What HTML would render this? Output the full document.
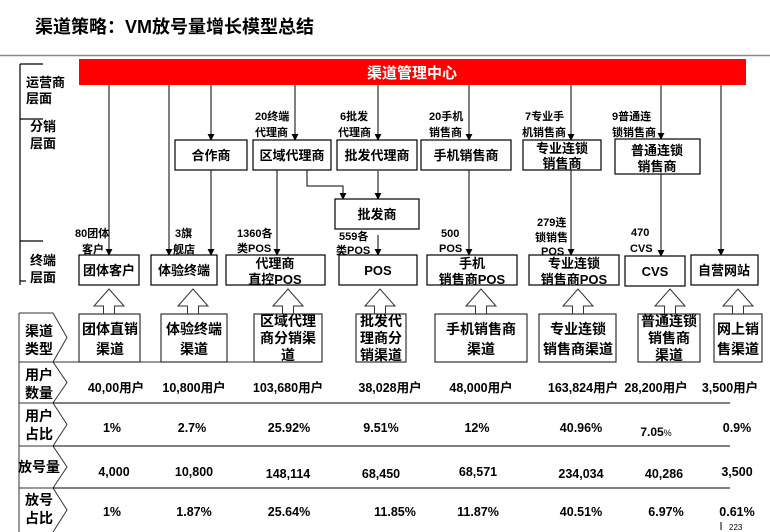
<!DOCTYPE html>
<html><head><meta charset="utf-8"><style>
html,body{margin:0;padding:0;background:#fff;}
svg{display:block;font-family:"Liberation Sans","Noto Sans CJK SC","WenQuanYi Zen Hei",sans-serif;font-weight:bold;}
</style></head><body>
<svg width="770" height="532" viewBox="0 0 770 532" xmlns="http://www.w3.org/2000/svg">
<defs><marker id="a" viewBox="0 0 8 8" refX="7" refY="4" markerWidth="7" markerHeight="7" orient="auto" markerUnits="userSpaceOnUse"><path d="M0,0 L8,4 L0,8 z" fill="#000"/></marker></defs>
<text x="35" y="33" font-size="18">渠道策略：VM放号量增长模型总结</text>
<line x1="0" y1="55.5" x2="770" y2="55.5" stroke="#888" stroke-width="1.5"/>
<rect x="79" y="59" width="667" height="26" fill="#ff0000"/>
<text x="412" y="78" font-size="15" fill="#fff" text-anchor="middle">渠道管理中心</text>
<g stroke="#000" stroke-width="1.2" fill="none">
<line x1="20" y1="64" x2="20" y2="285"/>
<line x1="20" y1="64" x2="43" y2="64"/><line x1="20" y1="119" x2="43" y2="119"/>
<line x1="20" y1="241" x2="43" y2="241"/><line x1="20" y1="281" x2="26" y2="281"/>
</g>
<g font-size="13">
<text x="26" y="87">运营商</text><text x="26" y="103">层面</text>
<text x="30" y="131">分销</text><text x="30" y="148">层面</text>
<text x="30" y="265">终端</text><text x="30" y="282">层面</text>
</g>
<g stroke="#000" stroke-width="1" marker-end="url(#a)">
<line x1="109" y1="85" x2="109" y2="255"/>
<line x1="169" y1="85" x2="169" y2="255"/>
<line x1="211" y1="85" x2="211" y2="140"/>
<line x1="295" y1="85" x2="295" y2="140"/>
<line x1="378" y1="85" x2="378" y2="140"/>
<line x1="469" y1="85" x2="469" y2="140"/>
<line x1="571" y1="85" x2="571" y2="140"/>
<line x1="661" y1="85" x2="661" y2="139"/>
<line x1="721" y1="85" x2="721" y2="255"/>
<line x1="211" y1="170" x2="211" y2="255"/>
<line x1="277" y1="170" x2="277" y2="255"/>
<polyline points="307,170 307,186 343,186 343,199" fill="none"/>
<line x1="378" y1="171" x2="378" y2="199"/>
<line x1="378" y1="235" x2="378" y2="255"/>
<line x1="469" y1="170" x2="469" y2="255"/>
<line x1="571" y1="170" x2="571" y2="255"/>
<line x1="661" y1="174" x2="661" y2="256"/>
</g>
<g stroke="#000" stroke-width="1.2" fill="#fff">
<rect x="175" y="140" width="72" height="30"/>
<rect x="253" y="140" width="78" height="30"/>
<rect x="337" y="140" width="80" height="30"/>
<rect x="421" y="140" width="90" height="30"/>
<rect x="523" y="140" width="78" height="30"/>
<rect x="615" y="139" width="85" height="35"/>
<rect x="335" y="199" width="84" height="30"/>
<rect x="79" y="255" width="60" height="30"/>
<rect x="151" y="255" width="66" height="30"/>
<rect x="226" y="255" width="99" height="30"/>
<rect x="339" y="255" width="78" height="30"/>
<rect x="427" y="255" width="90" height="30"/>
<rect x="529" y="255" width="90" height="30"/>
<rect x="625" y="256" width="60" height="30"/>
<rect x="691" y="255" width="67" height="30"/>
</g>
<g font-size="13" text-anchor="middle">
<text x="211" y="160">合作商</text>
<text x="292" y="160">区域代理商</text>
<text x="377" y="160">批发代理商</text>
<text x="466" y="160">手机销售商</text>
<text x="562" y="153">专业连锁</text><text x="562" y="168">销售商</text>
<text x="657" y="155">普通连锁</text><text x="657" y="171">销售商</text>
<text x="377" y="219">批发商</text>
<text x="109" y="275">团体客户</text>
<text x="184" y="275">体验终端</text>
<text x="275" y="268">代理商</text><text x="275" y="284">直控POS</text>
<text x="378" y="275">POS</text>
<text x="472" y="268">手机</text><text x="472" y="284">销售商POS</text>
<text x="574" y="268">专业连锁</text><text x="574" y="284">销售商POS</text>
<text x="655" y="276">CVS</text>
<text x="724" y="275">自营网站</text>
</g>
<g font-size="11">
<text x="75" y="237">80团体</text><text x="82" y="253">客户</text>
<text x="175" y="237">3旗</text><text x="173" y="253">舰店</text>
<text x="237" y="237">1360各</text><text x="237" y="252">类POS</text>
<text x="255" y="120">20终端</text><text x="255" y="136">代理商</text>
<text x="340" y="120">6批发</text><text x="338" y="136">代理商</text>
<text x="339" y="240">559各</text><text x="336" y="254">类POS</text>
<text x="429" y="120">20手机</text><text x="429" y="136">销售商</text>
<text x="441" y="237">500</text><text x="439" y="252">POS</text>
<text x="525" y="120">7专业手</text><text x="522" y="136">机销售商</text>
<text x="537" y="226">279连</text><text x="535" y="241">锁销售</text><text x="541" y="255">POS</text>
<text x="612" y="120">9普通连</text><text x="612" y="136">锁销售商</text>
<text x="631" y="236">470</text><text x="630" y="252">CVS</text>
</g>
<g stroke="#333" stroke-width="1" fill="#fff">
<path d="M109,289 L124,306 L114.5,306 L114.5,314 L103.5,314 L103.5,306 L94,306 Z"/>
<path d="M193,289 L208,306 L198.5,306 L198.5,314 L187.5,314 L187.5,306 L178,306 Z"/>
<path d="M288,289 L303,306 L293.5,306 L293.5,314 L282.5,314 L282.5,306 L273,306 Z"/>
<path d="M380,289 L395,306 L385.5,306 L385.5,314 L374.5,314 L374.5,306 L365,306 Z"/>
<path d="M481,289 L496,306 L486.5,306 L486.5,314 L475.5,314 L475.5,306 L466,306 Z"/>
<path d="M578,289 L593,306 L583.5,306 L583.5,314 L572.5,314 L572.5,306 L563,306 Z"/>
<path d="M670,289 L685,306 L675.5,306 L675.5,314 L664.5,314 L664.5,306 L655,306 Z"/>
<path d="M738,289 L753,306 L743.5,306 L743.5,314 L732.5,314 L732.5,306 L723,306 Z"/>
</g>
<g stroke="#333" stroke-width="1.2" fill="#fff">
<rect x="79" y="314" width="61" height="48"/>
<rect x="161" y="314" width="66" height="48"/>
<rect x="254" y="314" width="68" height="48"/>
<rect x="356" y="314" width="50" height="48"/>
<rect x="435" y="314" width="92" height="48"/>
<rect x="539" y="314" width="77" height="48"/>
<rect x="638" y="314" width="62" height="48"/>
<rect x="714" y="314" width="48" height="48"/>
</g>
<g font-size="14" text-anchor="middle">
<text x="110" y="334">团体直销</text><text x="110" y="354">渠道</text>
<text x="194" y="334">体验终端</text><text x="194" y="354">渠道</text>
<text x="288" y="326">区域代理</text><text x="288" y="343">商分销渠</text><text x="288" y="360">道</text>
<text x="381" y="326">批发代</text><text x="381" y="343">理商分</text><text x="381" y="360">销渠道</text>
<text x="481" y="334">手机销售商</text><text x="481" y="354">渠道</text>
<text x="578" y="334">专业连锁</text><text x="578" y="354">销售商渠道</text>
<text x="669" y="326">普通连锁</text><text x="669" y="343">销售商</text><text x="669" y="360">渠道</text>
<text x="738" y="334">网上销</text><text x="738" y="354">售渠道</text>
</g>
<g stroke="#333" stroke-width="1" fill="none">
<line x1="19" y1="313" x2="19" y2="532"/>
<path d="M19,313 L53,313 L67,337.5 L53,362"/>
<path d="M19,362 L53,362 L67,382.5 L53,403"/>
<path d="M19,403 L53,403 L67,424.5 L53,446"/>
<path d="M19,446 L53,446 L67,467 L53,488"/>
<path d="M19,488 L53,488 L67,510 L53,532"/>
<line x1="19" y1="362" x2="260" y2="362"/>
<line x1="53" y1="403" x2="730" y2="403" stroke="#000"/>
<line x1="53" y1="446" x2="730" y2="446" stroke="#000"/>
<line x1="53" y1="488" x2="730" y2="488" stroke="#000"/>
</g>
<g font-size="14">
<text x="25" y="336">渠道</text><text x="25" y="354">类型</text>
<text x="25" y="380">用户</text><text x="25" y="398">数量</text>
<text x="25" y="421">用户</text><text x="25" y="439">占比</text>
<text x="18" y="472">放号量</text>
<text x="25" y="505">放号</text><text x="25" y="523">占比</text>
</g>
<g font-size="12.5" text-anchor="middle">
<text x="116" y="392">40,00用户</text><text x="194" y="392">10,800用户</text>
<text x="288" y="392">103,680用户</text><text x="390" y="392">38,028用户</text>
<text x="481" y="392">48,000用户</text><text x="583" y="392">163,824用户</text>
<text x="656" y="392">28,200用户</text><text x="730" y="392">3,500用户</text>
<text x="112" y="432">1%</text><text x="192" y="432">2.7%</text>
<text x="289" y="432">25.92%</text><text x="381" y="432">9.51%</text>
<text x="477" y="432">12%</text><text x="581" y="432">40.96%</text>
<text x="656" y="436" font-size="12">7.05<tspan font-size="9" font-weight="normal">%</tspan></text><text x="737" y="432">0.9%</text>
<text x="114" y="476">4,000</text><text x="194" y="476">10,800</text>
<text x="288" y="478">148,114</text><text x="381" y="478">68,450</text>
<text x="478" y="476">68,571</text><text x="581" y="478">234,034</text>
<text x="664" y="478">40,286</text><text x="737" y="476">3,500</text>
<text x="112" y="516">1%</text><text x="194" y="516">1.87%</text>
<text x="289" y="516">25.64%</text><text x="395" y="516">11.85%</text>
<text x="478" y="516">11.87%</text><text x="581" y="516">40.51%</text>
<text x="666" y="516">6.97%</text><text x="737" y="516">0.61%</text>
</g>
<line x1="721" y1="522" x2="721" y2="530" stroke="#000"/>
<text x="729" y="530" font-size="8" font-weight="normal">223</text>
</svg>
</body></html>
